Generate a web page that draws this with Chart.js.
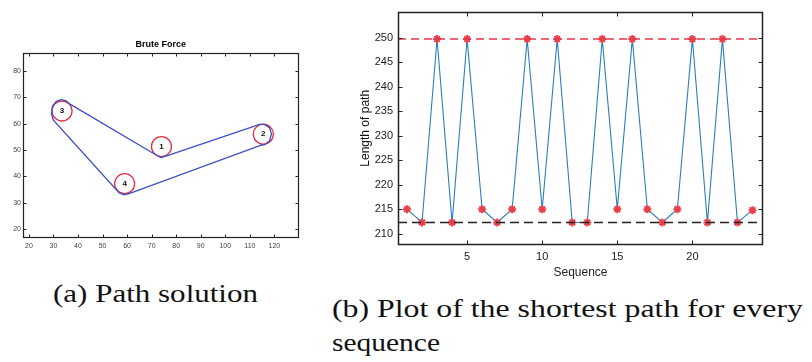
<!DOCTYPE html>
<html><head><meta charset="utf-8">
<script src="https://cdn.jsdelivr.net/npm/chart.js@4.4.0/dist/chart.umd.min.js"></script>
<style>
html,body{margin:0;padding:0;background:#fff;width:812px;height:362px;overflow:hidden;}
canvas{position:absolute;}
.cap{position:absolute;font-family:"Liberation Serif","Times New Roman",serif;font-size:26px;line-height:26px;color:#111;white-space:nowrap;transform-origin:0 0;display:inline-block;}
</style></head><body>
<canvas id="left" width="310" height="240" style="left:0;top:30px;width:310px;height:240px"></canvas>
<canvas id="right" width="482" height="290" style="left:330px;top:0;width:482px;height:290px"></canvas>
<div class="cap" style="left:53px;top:281px" data-w="205">(a) Path solution</div>
<div class="cap" style="left:332px;top:296px" data-w="471">(b) Plot of the shortest path for every</div>
<div class="cap" style="left:332px;top:330px" data-w="108">sequence</div>
<script>
// ---------------- data ----------------
// (a) nodes of the path solution
const nodeLabels = ['1', '2', '3', '4'];
const nodeX = [74, 115.5, 33.5, 59];
const nodeY = [51.3, 56, 64.8, 37.2];
// (a) blue tour outline
const pathX = [36.6, 72.5, 73.8, 75.2, 114.0, 116.0, 118.0, 118.8, 118.0, 116.0, 114.6, 61.1, 58.8, 56.7, 29.9, 29.2, 29.6, 31.2, 33.0, 35.0, 36.6];
const pathY = [67.5, 47.7, 47.1, 47.5, 59.7, 59.7, 58.5, 56.1, 53.4, 52.0, 51.8, 33.5, 33.0, 33.8, 61.4, 63.9, 66.7, 68.5, 69.1, 68.7, 67.5];
const leftXTicks = [20, 30, 40, 50, 60, 70, 80, 90, 100, 110, 120];
const leftYTicks = [20, 30, 40, 50, 60, 70, 80];
const leftTitle = 'Brute Force';

// (b) length of path for every sequence
const sequence = [1, 2, 3, 4, 5, 6, 7, 8, 9, 10, 11, 12, 13, 14, 15, 16, 17, 18, 19, 20, 21, 22, 23, 24];
const pathLength = [215, 212.3, 249.7, 212.3, 249.7, 215, 212.3, 215, 249.7, 215, 249.7, 212.3, 212.3, 249.7, 215, 249.7, 215, 212.3, 215, 249.7, 212.3, 249.7, 212.3, 214.8];
const longestLength = 249.7;
const shortestLength = 212.3;
const rightXTicks = [5, 10, 15, 20];
const rightYTicks = [210, 215, 220, 225, 230, 235, 240, 245, 250];
const xLabel = 'Sequence';
const yLabel = 'Length of path';

// ---------------- helpers ----------------
function setTicks(arr) {
  return function (scale) { scale.ticks = arr.map(v => ({ value: v })); };
}
const boxTicks = {
  id: 'boxTicks',
  afterDraw(chart, args, opts) {
    const { ctx, chartArea } = chart;
    const l = Math.round(chartArea.left) + 0.5, r = Math.round(chartArea.right) - 0.5;
    const t = Math.round(chartArea.top) + 0.5, b = Math.round(chartArea.bottom) - 0.5;
    const L = opts.len;
    ctx.save();
    ctx.strokeStyle = opts.color;
    ctx.lineWidth = opts.width;
    ctx.beginPath();
    chart.scales.x.ticks.forEach(tk => {
      const px = Math.round(chart.scales.x.getPixelForValue(tk.value)) + 0.5;
      ctx.moveTo(px, b); ctx.lineTo(px, b - L);
      ctx.moveTo(px, t); ctx.lineTo(px, t + L);
    });
    chart.scales.y.ticks.forEach(tk => {
      const py = Math.round(chart.scales.y.getPixelForValue(tk.value)) + 0.5;
      ctx.moveTo(l, py); ctx.lineTo(l + L, py);
      ctx.moveTo(r, py); ctx.lineTo(r - L, py);
    });
    ctx.stroke();
    ctx.lineWidth = opts.boxWidth;
    ctx.strokeRect(l, t, r - l, b - t);
    ctx.restore();
  }
};
const nodeText = {
  id: 'nodeText',
  afterDatasetsDraw(chart) {
    const { ctx, scales: { x, y } } = chart;
    ctx.save();
    ctx.fillStyle = '#111';
    ctx.font = 'bold 8px "Liberation Sans", Arial, sans-serif';
    ctx.textAlign = 'center';
    ctx.textBaseline = 'middle';
    nodeLabels.forEach((lab, i) => ctx.fillText(lab, x.getPixelForValue(nodeX[i]), y.getPixelForValue(nodeY[i])));
    ctx.restore();
  }
};

// ---------------- (a) left chart ----------------
new Chart(document.getElementById('left'), {
  type: 'scatter',
  data: {
    datasets: [
      {
        data: pathX.map((v, i) => ({ x: v, y: pathY[i] })),
        showLine: true, pointRadius: 0, borderColor: '#3d4fc4', borderWidth: 1.3, tension: 0, order: 1
      },
      {
        data: nodeX.map((v, i) => ({ x: v, y: nodeY[i] })),
        showLine: false, pointStyle: 'circle', pointRadius: 10, pointBorderWidth: 1.3,
        pointBorderColor: '#e03048', pointBackgroundColor: 'rgba(0,0,0,0)', order: 2
      }
    ]
  },
  options: {
    responsive: false, animation: false, devicePixelRatio: 1,
    layout: { padding: { left: 0, right: 7, top: 0, bottom: 0 } },
    plugins: {
      legend: { display: false }, tooltip: { enabled: false },
      title: { display: true, text: leftTitle, fullSize: false, color: '#000',
        font: { family: '"Liberation Sans", Arial, sans-serif', size: 9, weight: 'bold', lineHeight: 1.2 },
        padding: { top: 9.6, bottom: 2.6 } },
      boxTicks: { len: 3, color: '#222', width: 1, boxWidth: 1.2 }
    },
    scales: {
      x: { type: 'linear', min: 17.6, max: 129.9,
        afterBuildTicks: setTicks(leftXTicks),
        afterFit: s => { s.height = 32; },
        grid: { display: false, drawTicks: false }, border: { display: false },
        ticks: { padding: 4, color: '#444', font: { family: '"Liberation Sans", Arial, sans-serif', size: 7 }, maxRotation: 0, autoSkip: false } },
      y: { type: 'linear', min: 16.6, max: 86.8,
        afterBuildTicks: setTicks(leftYTicks),
        afterFit: s => { s.width = 23; },
        grid: { display: false, drawTicks: false }, border: { display: false },
        ticks: { padding: 2, color: '#444', font: { family: '"Liberation Sans", Arial, sans-serif', size: 7 }, autoSkip: false } }
    }
  },
  plugins: [boxTicks, nodeText]
});

// ---------------- (b) right chart ----------------
const xMin = 0.4, xMax = 24.7;
new Chart(document.getElementById('right'), {
  type: 'scatter',
  data: {
    datasets: [
      {
        data: [{ x: xMin, y: longestLength }, { x: xMax, y: longestLength }],
        showLine: true, pointRadius: 0, borderColor: '#e8354a', borderWidth: 1.5, borderDash: [8, 5], order: 0
      },
      {
        data: [{ x: xMin, y: shortestLength }, { x: xMax, y: shortestLength }],
        showLine: true, pointRadius: 0, borderColor: '#222', borderWidth: 1.5, borderDash: [9, 5], order: 0
      },
      {
        data: sequence.map((s, i) => ({ x: s, y: pathLength[i] })),
        showLine: true, borderColor: '#2a7ec0', borderWidth: 1.1, tension: 0,
        pointStyle: 'star', pointRadius: 4, pointBorderWidth: 2,
        pointBorderColor: '#e8404a', pointBackgroundColor: '#e8404a', order: 1
      }
    ]
  },
  options: {
    responsive: false, animation: false, devicePixelRatio: 1,
    layout: { padding: { left: 0, right: 49, top: 7, bottom: 0 } },
    plugins: {
      legend: { display: false }, tooltip: { enabled: false },
      boxTicks: { len: 4, color: '#222', width: 1, boxWidth: 1.5 }
    },
    scales: {
      x: { type: 'linear', min: xMin, max: xMax,
        afterBuildTicks: setTicks(rightXTicks),
        afterFit: s => { s.height = 45; },
        grid: { display: false, drawTicks: false }, border: { display: false },
        title: { display: true, text: xLabel, color: '#222', padding: { top: 0, bottom: 10 },
          font: { family: '"Liberation Sans", Arial, sans-serif', size: 12, lineHeight: 1.2 } },
        ticks: { padding: 5, color: '#222', font: { family: '"Liberation Sans", Arial, sans-serif', size: 11 }, maxRotation: 0, autoSkip: false } },
      y: { type: 'linear', min: 207.7, max: 255.3,
        afterBuildTicks: setTicks(rightYTicks),
        afterFit: s => { s.width = 68; },
        grid: { display: false, drawTicks: false }, border: { display: false },
        title: { display: true, text: yLabel, color: '#111', padding: { top: 28, bottom: 0 },
          font: { family: '"Liberation Sans", Arial, sans-serif', size: 12, lineHeight: 1.2 } },
        ticks: { padding: 5, color: '#222', font: { family: '"Liberation Sans", Arial, sans-serif', size: 11 }, autoSkip: false } }
    }
  },
  plugins: [boxTicks]
});

// ---------------- captions: fit to reference widths ----------------
document.querySelectorAll('.cap').forEach(el => {
  const w = el.getBoundingClientRect().width;
  const target = parseFloat(el.dataset.w);
  el.style.transform = 'scaleX(' + (target / w) + ')';
});
</script>
</body></html>
